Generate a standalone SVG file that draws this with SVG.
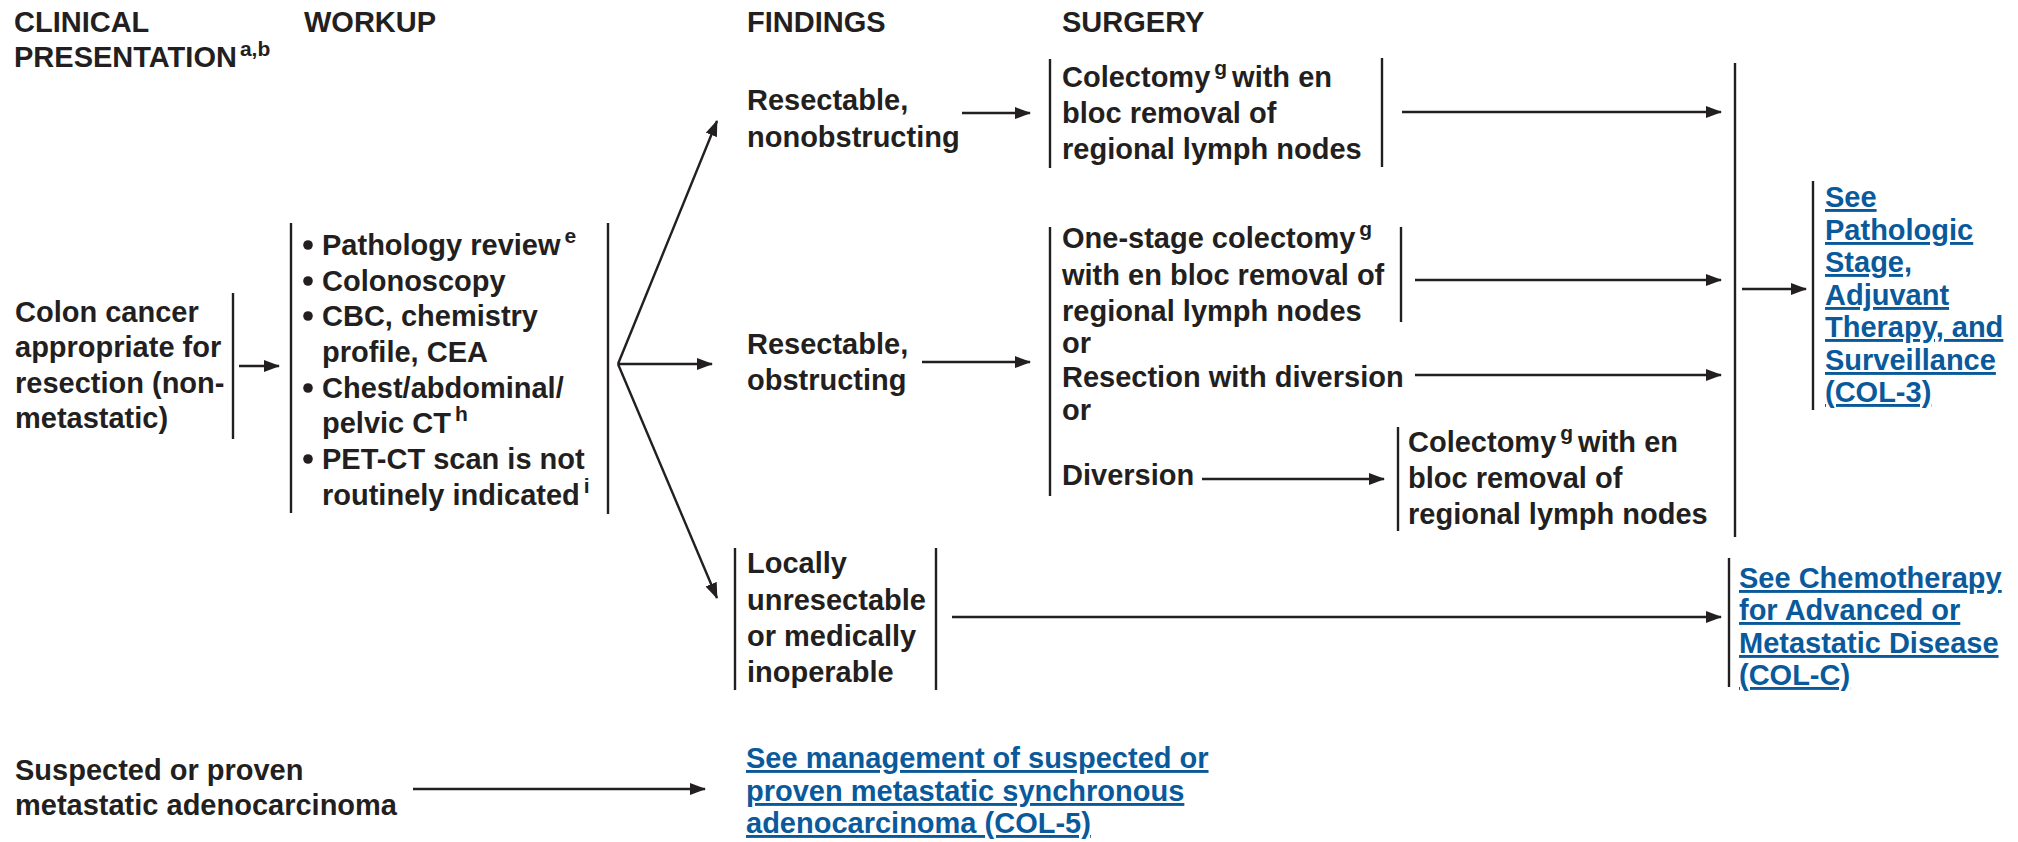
<svg xmlns="http://www.w3.org/2000/svg" width="2018" height="842" viewBox="0 0 2018 842">
<defs>
<style>
text{font-family:"Liberation Sans",Arial,Helvetica,sans-serif;font-weight:bold;font-size:29px;fill:#231f20}
.sup{font-size:21px}
.link{fill:#0a5a9b;text-decoration:underline}
.bar{stroke:#231f20;stroke-width:2.4;fill:none}
.arr{stroke:#231f20;stroke-width:2.4;fill:none;marker-end:url(#ah)}
.dot{fill:#231f20}
</style>
<marker id="ah" viewBox="0 0 16 12" refX="15" refY="6" markerWidth="16" markerHeight="12" markerUnits="userSpaceOnUse" orient="auto">
<path d="M0,0 L16,6 L0,12 z" fill="#231f20"/>
</marker>
</defs>
<rect width="2018" height="842" fill="#ffffff"/>

<g id="headers">
<text x="14" y="32">CLINICAL</text>
<text x="14" y="67">PRESENTATION<tspan class="sup" dx="3" dy="-11">a,b</tspan></text>
<text x="304" y="32">WORKUP</text>
<text x="747" y="32">FINDINGS</text>
<text x="1062" y="32">SURGERY</text>
</g>

<g id="node-colon">
<text x="15" y="322">Colon cancer</text>
<text x="15" y="357">appropriate for</text>
<text x="15" y="393">resection (non-</text>
<text x="15" y="428">metastatic)</text>
<line class="bar" x1="233" y1="293" x2="233" y2="439"/>
</g>

<g id="node-workup">
<line class="bar" x1="291" y1="223" x2="291" y2="513"/>
<line class="bar" x1="608" y1="223" x2="608" y2="514"/>
<circle class="dot" cx="308" cy="245" r="4.8"/>
<circle class="dot" cx="308" cy="281" r="4.8"/>
<circle class="dot" cx="308" cy="316" r="4.8"/>
<circle class="dot" cx="308" cy="388" r="4.8"/>
<circle class="dot" cx="308" cy="459" r="4.8"/>
<text x="322" y="255">Pathology review<tspan class="sup" dx="4" dy="-12">e</tspan></text>
<text x="322" y="291">Colonoscopy</text>
<text x="322" y="326">CBC, chemistry</text>
<text x="322" y="362">profile, CEA</text>
<text x="322" y="398">Chest/abdominal/</text>
<text x="322" y="433">pelvic CT<tspan class="sup" dx="4" dy="-12">h</tspan></text>
<text x="322" y="469">PET-CT scan is not</text>
<text x="322" y="505">routinely indicated<tspan class="sup" dx="4" dy="-12">i</tspan></text>
</g>

<g id="node-nonobstructing">
<text x="747" y="110">Resectable,</text>
<text x="747" y="147">nonobstructing</text>
</g>

<g id="node-obstructing">
<text x="747" y="354">Resectable,</text>
<text x="747" y="390">obstructing</text>
</g>

<g id="node-locally">
<line class="bar" x1="735" y1="548" x2="735" y2="690"/>
<line class="bar" x1="936" y1="548" x2="936" y2="690"/>
<text x="747" y="573">Locally</text>
<text x="747" y="610">unresectable</text>
<text x="747" y="646">or medically</text>
<text x="747" y="682">inoperable</text>
</g>

<g id="node-colectomy1">
<line class="bar" x1="1050" y1="59" x2="1050" y2="168"/>
<line class="bar" x1="1382" y1="58" x2="1382" y2="167"/>
<text x="1062" y="87">Colectomy<tspan class="sup" dx="4" dy="-12">g</tspan><tspan dx="5" dy="12">with en</tspan></text>
<text x="1062" y="123">bloc removal of</text>
<text x="1062" y="159">regional lymph nodes</text>
</g>

<g id="node-obstructing-options">
<line class="bar" x1="1050" y1="227" x2="1050" y2="496"/>
<line class="bar" x1="1401" y1="227" x2="1401" y2="322"/>
<text x="1062" y="248">One-stage colectomy<tspan class="sup" dx="4" dy="-12">g</tspan></text>
<text x="1062" y="285">with en bloc removal of</text>
<text x="1062" y="321">regional lymph nodes</text>
<text x="1062" y="353">or</text>
<text x="1062" y="387">Resection with diversion</text>
<text x="1062" y="420">or</text>
<text x="1062" y="485">Diversion</text>
</g>

<g id="node-colectomy2">
<line class="bar" x1="1398" y1="427" x2="1398" y2="531"/>
<text x="1408" y="452">Colectomy<tspan class="sup" dx="4" dy="-12">g</tspan><tspan dx="5" dy="12">with en</tspan></text>
<text x="1408" y="488">bloc removal of</text>
<text x="1408" y="524">regional lymph nodes</text>
</g>

<g id="node-collector">
<line class="bar" x1="1735" y1="63" x2="1735" y2="537"/>
</g>

<g id="node-col3">
<line class="bar" x1="1813" y1="181" x2="1813" y2="410"/>
<text class="link" x="1825" y="207">See</text>
<text class="link" x="1825" y="240">Pathologic</text>
<text class="link" x="1825" y="272">Stage,</text>
<text class="link" x="1825" y="305">Adjuvant</text>
<text class="link" x="1825" y="337">Therapy, and</text>
<text class="link" x="1825" y="370">Surveillance</text>
<text class="link" x="1825" y="402">(COL-3)</text>
</g>

<g id="node-colc">
<line class="bar" x1="1729" y1="558" x2="1729" y2="687"/>
<text class="link" x="1739" y="588">See Chemotherapy</text>
<text class="link" x="1739" y="620">for Advanced or</text>
<text class="link" x="1739" y="653">Metastatic Disease</text>
<text class="link" x="1739" y="685">(COL-C)</text>
</g>

<g id="node-suspected">
<text x="15" y="780">Suspected or proven</text>
<text x="15" y="815">metastatic adenocarcinoma</text>
</g>

<g id="node-col5">
<text class="link" x="746" y="768">See management of suspected or</text>
<text class="link" x="746" y="801">proven metastatic synchronous</text>
<text class="link" x="746" y="833">adenocarcinoma (COL-5)</text>
</g>

<g id="connectors">
<line class="arr" x1="239" y1="366" x2="279" y2="366"/>
<line class="arr" x1="618" y1="364" x2="717" y2="121"/>
<line class="arr" x1="618" y1="364" x2="712" y2="364"/>
<line class="arr" x1="618" y1="364" x2="717" y2="598"/>
<line class="arr" x1="962" y1="113" x2="1030" y2="113"/>
<line class="arr" x1="922" y1="362" x2="1030" y2="362"/>
<line class="arr" x1="1402" y1="112" x2="1721" y2="112"/>
<line class="arr" x1="1415" y1="280" x2="1721" y2="280"/>
<line class="arr" x1="1415" y1="375" x2="1721" y2="375"/>
<line class="arr" x1="1202" y1="479" x2="1384" y2="479"/>
<line class="arr" x1="1742" y1="289" x2="1806" y2="289"/>
<line class="arr" x1="952" y1="617" x2="1721" y2="617"/>
<line class="arr" x1="413" y1="789" x2="705" y2="789"/>
</g>
</svg>
